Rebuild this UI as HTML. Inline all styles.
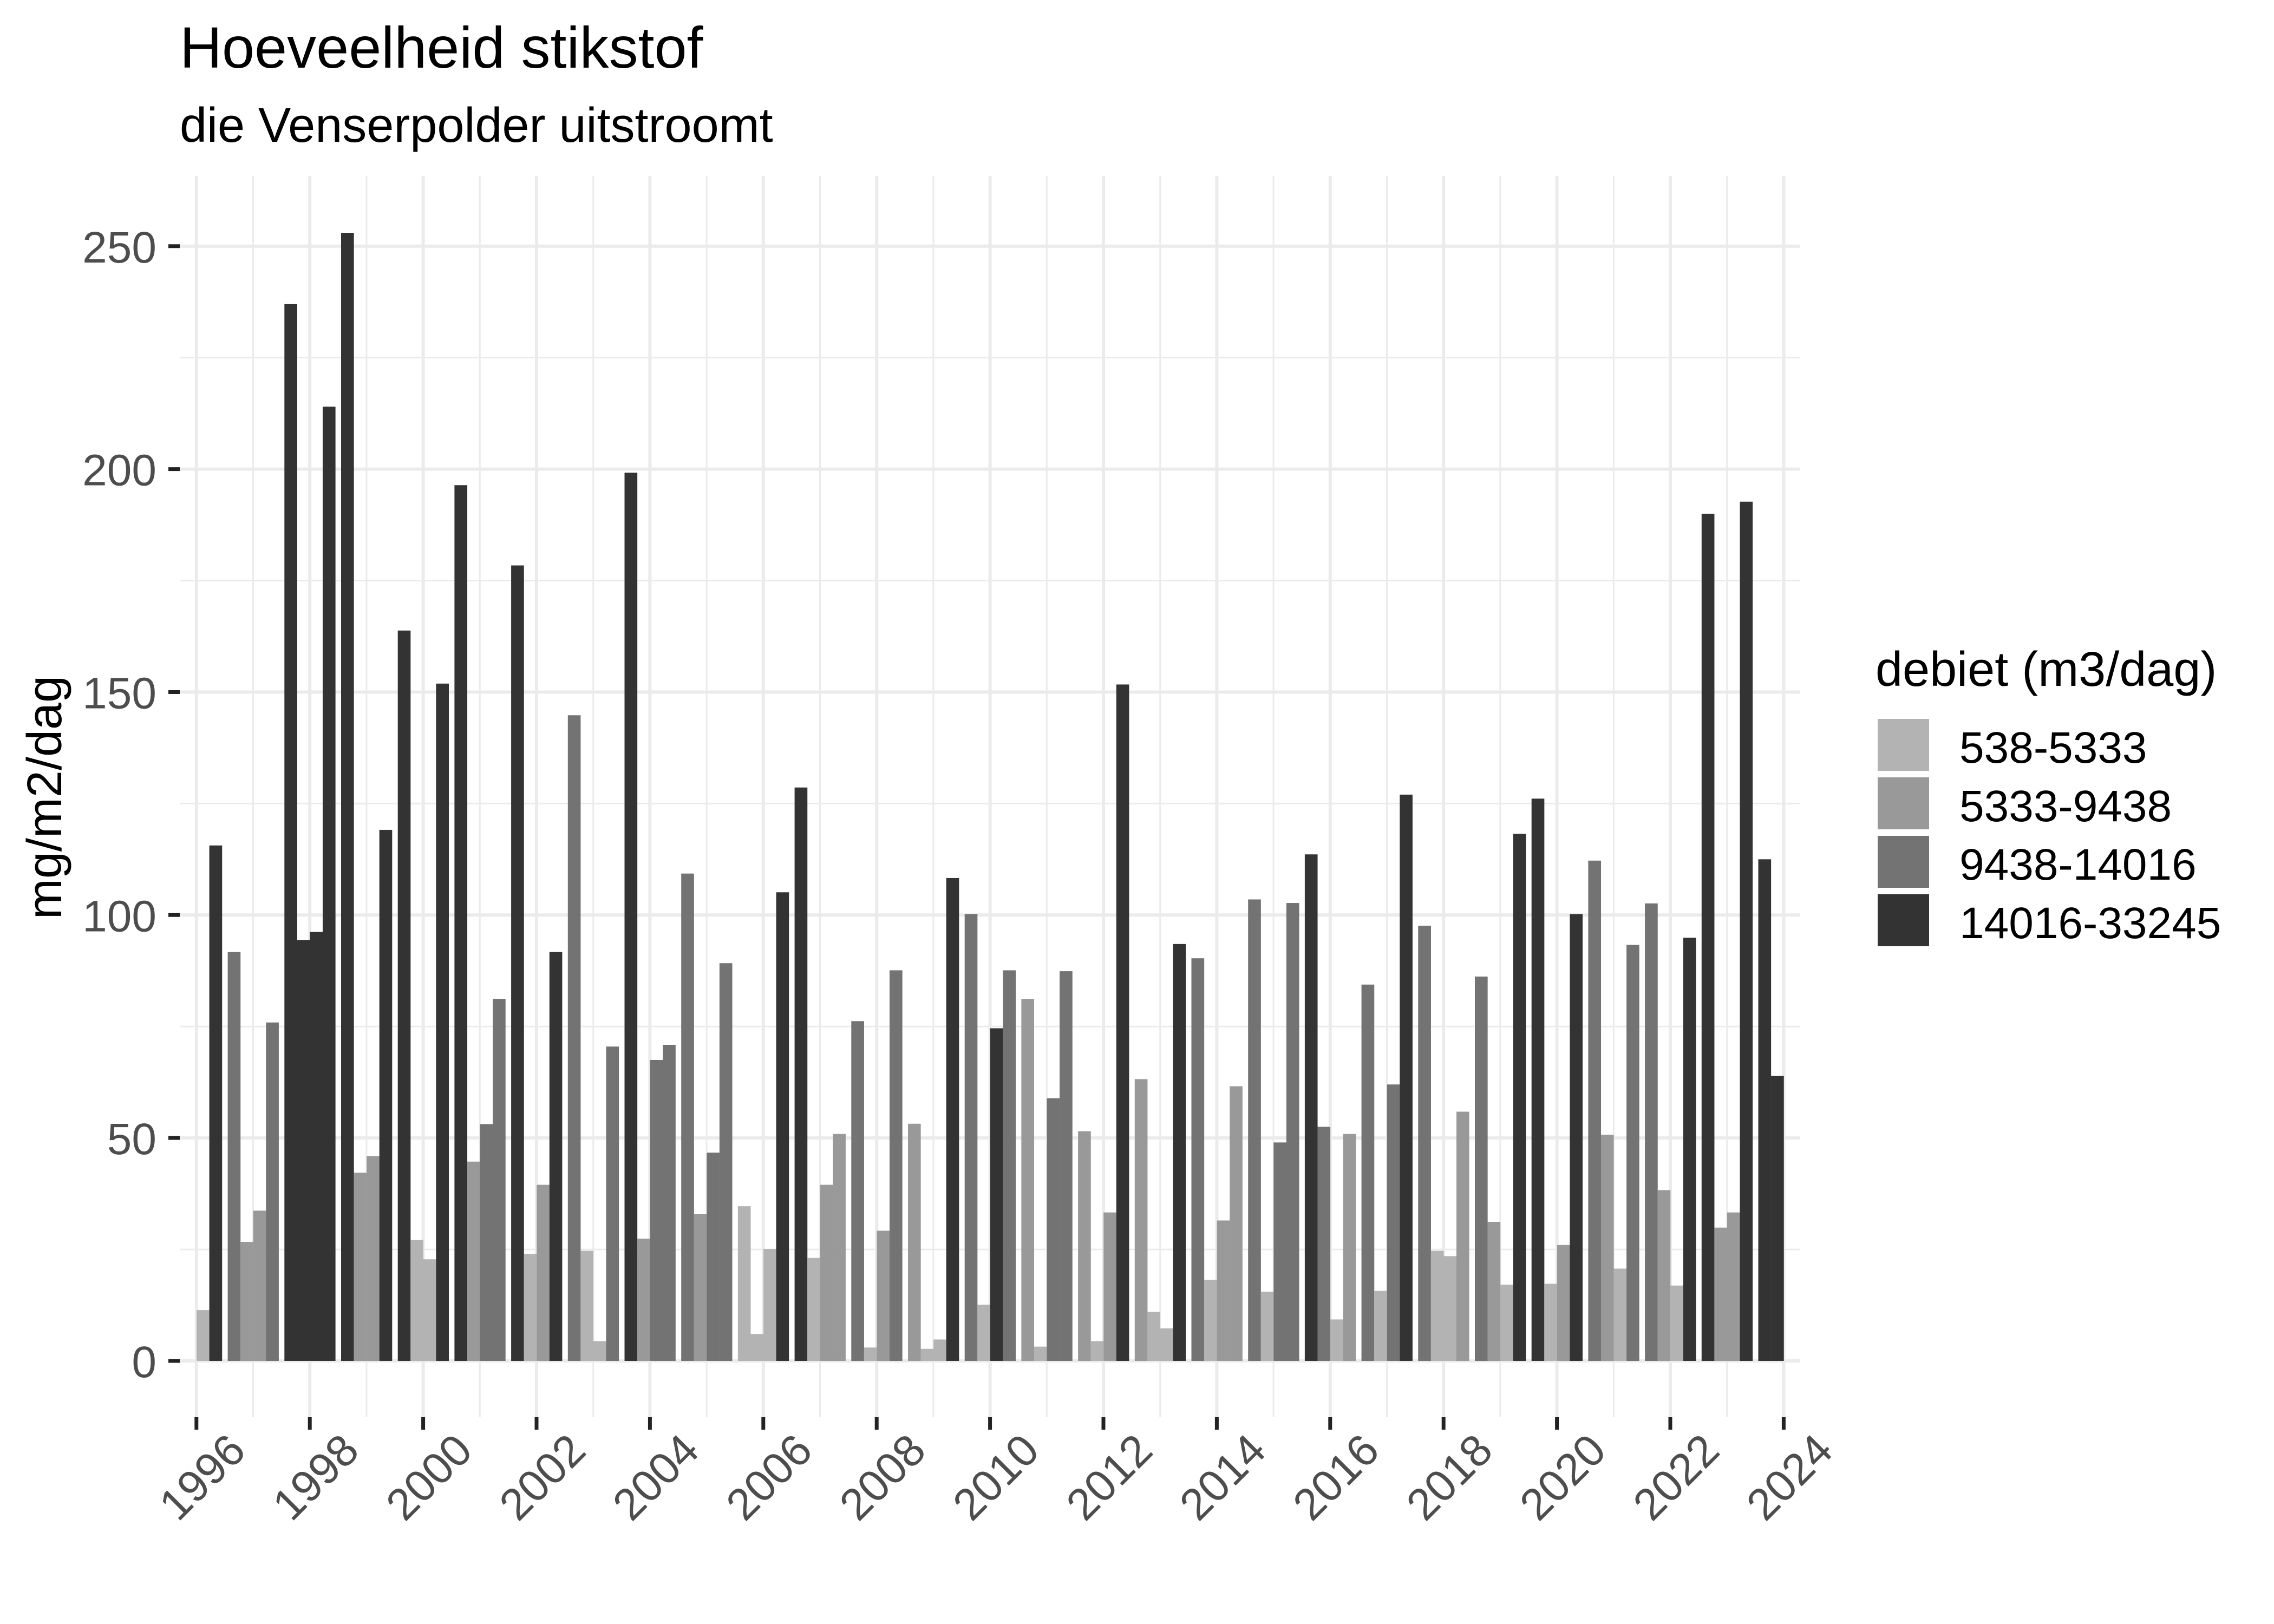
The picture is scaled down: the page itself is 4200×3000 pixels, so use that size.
<!DOCTYPE html>
<html><head><meta charset="utf-8"><title>Hoeveelheid stikstof</title>
<style>
html,body{margin:0;padding:0;background:#fff;}
svg{display:block;font-family:"Liberation Sans",Arial,sans-serif;}
</style></head>
<body>
<svg id="chart" xmlns="http://www.w3.org/2000/svg" width="4200" height="3000" viewBox="0 0 4200 3000">
<rect width="4200" height="3000" fill="#fff"/>
<text x="332" y="125" font-size="108" fill="#000">Hoeveelheid stikstof</text>
<text x="332" y="262" font-size="90" fill="#000">die Venserpolder uitstroomt</text>
<g id="grid"></g>
<g id="bars"></g>
<g id="axes"></g>
<text transform="translate(113,1473) rotate(-90)" text-anchor="middle" font-size="90" fill="#000">mg/m2/dag</text>
<g id="legend">
<text x="3464" y="1267" font-size="90" fill="#000">debiet (m3/dag)</text>
</g>
</svg>
<script>
// ---- data ----
const years = [1996,1997,1998,1999,2000,2001,2002,2003,2004,2005,2006,2007,2008,2009,2010,2011,2012,2013,2014,2015,2016,2017,2018,2019,2020,2021,2022,2023];
const sampleYearFraction = [0.115, 0.34, 0.665, 0.89]; // sampling moments within each year
const values = [
 11.4,115.6,91.7,26.7,
 33.7,75.9,237,94.4,
 96.2,214,253,42.2,
 45.9,119.1,163.8,27.1,
 22.8,151.9,196.4,44.7,
 53.1,81.2,178.4,24.0,
 39.5,91.7,144.8,24.7,
 4.45,70.5,199.2,27.4,
 67.5,70.9,109.3,32.9,
 46.7,89.2,34.7,6.05,
 25.1,105.1,128.6,23.1,
 39.5,50.9,76.2,3.0,
 29.2,87.6,53.2,2.7,
 4.8,108.3,100.2,12.6,
 74.6,87.6,81.2,3.2,
 58.9,87.4,51.5,4.45,
 33.3,151.7,63.2,11.0,
 7.3,93.5,90.3,18.2,
 31.5,61.6,103.5,15.5,
 49.0,102.7,113.6,52.5,
 9.3,50.9,84.4,15.7,
 62.0,127.0,97.6,24.7,
 23.5,55.9,86.2,31.2,
 17.1,118.2,126.1,17.3,
 26.0,100.2,112.2,50.7,
 20.7,93.3,102.6,38.3,
 16.9,94.9,190.0,29.9,
 33.3,192.7,112.5,63.9
];
// flow class index: 0=538-5333, 1=5333-9438, 2=9438-14016, 3=14016-33245
const flowClass = [
 0,3,2,1, 1,2,3,3, 3,3,3,1, 1,3,3,0, 0,3,3,1, 2,2,3,0, 1,3,2,0,
 0,2,3,1, 2,2,2,1, 2,2,0,0, 0,3,3,0, 1,1,2,0, 1,2,1,0, 0,3,2,0,
 3,2,1,0, 2,2,1,0, 1,3,1,0, 0,3,2,0, 1,1,2,0, 2,2,3,2, 0,1,2,0,
 2,3,2,0, 0,1,2,1, 0,3,3,0, 1,3,2,1, 0,2,2,1, 0,3,3,1, 1,3,3,3
];
const classLabels = ["538-5333","5333-9438","9438-14016","14016-33245"];
const yTicks = [0,50,100,150,200,250];
const yMinor = [25,75,125,175,225];
const xTickYears = [1996,1998,2000,2002,2004,2006,2008,2010,2012,2014,2016,2018,2020,2022,2024];
const xMinorYears = [1997,1999,2001,2003,2005,2007,2009,2011,2013,2015,2017,2019,2021,2023];

// ---- layout ----
const classColors = ["#b3b3b3","#999999","#737373","#333333"];
const P = {left:332, right:3325, top:325, bottom:2618};
const X0 = 362.8, PXYR = 104.7, Y0 = 2514, PXV = 8.237, BARW = 0.226;
const xs = yr => X0 + (yr - 1996) * PXYR;
const ys = v => Y0 - v * PXV;
const NS = "http://www.w3.org/2000/svg";
function mk(tag, attrs, parent){ const e=document.createElementNS(NS,tag); for(const k in attrs) e.setAttribute(k,attrs[k]); parent.appendChild(e); return e; }

const grid = document.getElementById('grid');
yMinor.forEach(v=>{ const l=mk('line',{x1:P.left,x2:P.right,y1:ys(v),y2:ys(v),stroke:'#ebebeb','stroke-width':3},grid);
 
  });
xMinorYears.forEach(y=>{ const l=mk('line',{x1:xs(y),x2:xs(y),y1:P.top,y2:P.bottom,stroke:'#ebebeb','stroke-width':3},grid);
 
  });
yTicks.forEach(v=>{ const l=mk('line',{x1:P.left,x2:P.right,y1:ys(v),y2:ys(v),stroke:'#ebebeb','stroke-width':6},grid);
 
  });
xTickYears.forEach(y=>{ const l=mk('line',{x1:xs(y),x2:xs(y),y1:P.top,y2:P.bottom,stroke:'#ebebeb','stroke-width':6},grid);
 
  });

const bars = document.getElementById('bars');
values.forEach((v,i)=>{
 const yr = years[Math.floor(i/4)] + sampleYearFraction[i%4];
 const x = xs(yr - BARW/2), w = BARW*PXYR;
 const r = mk('rect',{x:x.toFixed(2),y:ys(v).toFixed(2),width:w.toFixed(2),height:(Y0-ys(v)).toFixed(2),fill:classColors[flowClass[i]]},bars);
 
 
});

const axes = document.getElementById('axes');
yTicks.forEach(v=>{
 const t=mk('line',{x1:311,x2:332,y1:ys(v),y2:ys(v),stroke:'#222','stroke-width':7},axes);
 
 
 const lb=mk('text',{x:289,y:ys(v)+30,'text-anchor':'end','font-size':82,fill:'#4d4d4d'},axes);
 lb.textContent=String(v);
 
 
});
xTickYears.forEach(y=>{
 const t=mk('line',{x1:xs(y),x2:xs(y),y1:2618,y2:2641,stroke:'#222','stroke-width':7},axes);
 
 
 const px=xs(y)+95, py=2684;
 const lb=mk('text',{x:0,y:0,'text-anchor':'end','font-size':82,fill:'#4d4d4d',transform:`translate(${px},${py}) rotate(-45)`},axes);
 lb.textContent=String(y);
 
 
});

const legend = document.getElementById('legend');
classLabels.forEach((lab,k)=>{
 const top = 1328 + k*108;
 const r=mk('rect',{x:3468,y:top,width:95,height:96,fill:classColors[k]},legend);
 
 
 const t=mk('text',{x:3619,y:top+81,'font-size':82,fill:'#000'},legend);
 t.textContent=lab;
 
 
});
</script>
</body></html>
